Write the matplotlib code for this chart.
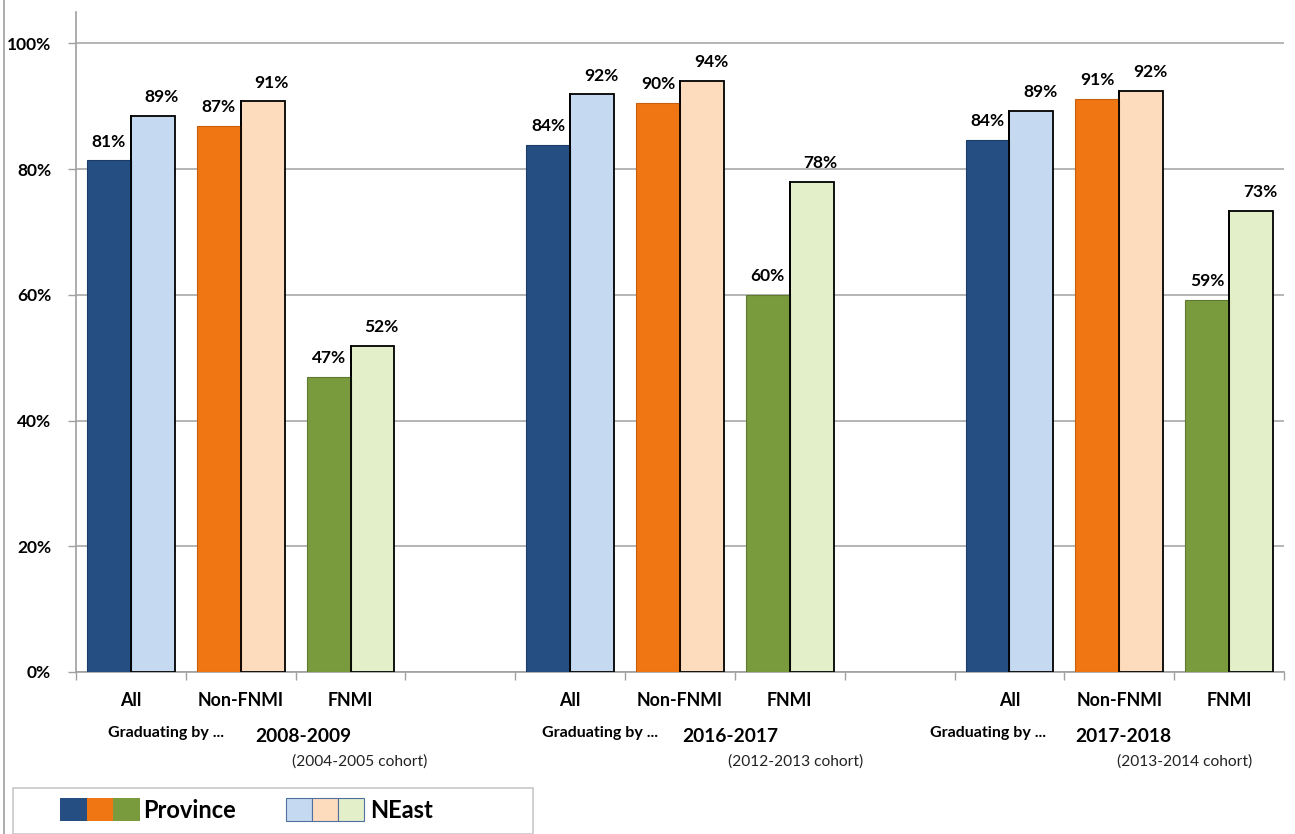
import matplotlib
matplotlib.use("Agg")
import matplotlib.pyplot as plt
from matplotlib.patches import Rectangle
from matplotlib.lines import Line2D
import numpy as np

plt.rcParams['font.family'] = ['Lato', 'DejaVu Sans']

# ---- data ----
categories = ["All", "Non-FNMI", "FNMI"]
years = ["2008-2009", "2016-2017", "2017-2018"]
cohorts = ["(2004-2005 cohort)", "(2012-2013 cohort)", "(2013-2014 cohort)"]
province = [[81.4, 86.9, 47.0], [83.9, 90.6, 60.0], [84.6, 91.2, 59.2]]
neast = [[88.5, 90.8, 51.9], [91.9, 94.1, 78.0], [89.3, 92.5, 73.4]]
province_labels = [["81%", "87%", "47%"], ["84%", "90%", "60%"], ["84%", "91%", "59%"]]
neast_labels = [["89%", "91%", "52%"], ["92%", "94%", "78%"], ["89%", "92%", "73%"]]
yticks = [0, 20, 40, 60, 80, 100]
ytick_labels = ["0%", "20%", "40%", "60%", "80%", "100%"]
series_names = ["Province", "NEast"]

dark_colors = ["#254F83", "#F07614", "#7A9A3E"]
dark_edges = ["#1B3C66", "#C85F0E", "#5E7A2E"]
light_colors = ["#C5D9F1", "#FDDCBE", "#E2EFC9"]

W, H = 1295, 834
fig = plt.figure(figsize=(W / 100, H / 100), dpi=100)

def fx(x):
    return x / W

def fy(y):
    return 1 - y / H

ax_left, ax_right, ax_top, ax_bottom = 76, 1284, 12, 672
ax = fig.add_axes([fx(ax_left), fy(ax_bottom), (ax_right - ax_left) / W, (ax_bottom - ax_top) / H])

n_slots = 11
slot_starts = [0, 4, 8]
bw = 0.4
for g in range(3):
    for c in range(3):
        center = slot_starts[g] + c + 0.5
        ax.bar(center + bw / 2, neast[g][c], width=bw, color=light_colors[c],
               edgecolor="black", linewidth=1.3, zorder=3)
        ax.bar(center - bw / 2, province[g][c], width=bw, color=dark_colors[c],
               edgecolor=dark_edges[c], linewidth=0.8, zorder=4)
        ax.plot([center, center], [0, neast[g][c]], color="black", lw=1.3, zorder=5)
        ax.annotate(province_labels[g][c], (center - bw / 2, province[g][c]),
                    xytext=(0, 13.5), textcoords="offset points", ha="center", va="center",
                    fontsize=12.5, fontweight="bold", color="black", zorder=6)
        ax.annotate(neast_labels[g][c], (center + bw / 2, neast[g][c]),
                    xytext=(6.5, 13.5), textcoords="offset points", ha="center", va="center",
                    fontsize=12.5, fontweight="bold", color="black", zorder=6)

ax.set_xlim(0, n_slots)
ax.set_ylim(0, 105)
ax.set_yticks(yticks)
ax.set_yticklabels(ytick_labels, fontsize=12.5, fontweight="bold")
ax.yaxis.grid(True, color="#A0A0A0", linewidth=1.1, zorder=0)
ax.set_axisbelow(True)
ax.tick_params(axis="y", length=6, width=1, color="#A0A0A0", pad=12)
ax.set_xticks(np.arange(0, n_slots + 1))
ax.set_xticklabels([])
ax.tick_params(axis="x", length=6, width=1, color="#A0A0A0")
for s in ["top", "right"]:
    ax.spines[s].set_visible(False)
for s in ["left", "bottom"]:
    ax.spines[s].set_color("#A0A0A0")
    ax.spines[s].set_linewidth(1.2)

# category labels
for g in range(3):
    for c in range(3):
        center = slot_starts[g] + c + 0.5
        ax.text(center, -4.5, categories[c], ha="center", va="center",
                fontsize=12.8, fontweight="bold", transform=ax.transData, clip_on=False)

grad_x = [166, 600, 988]
year_x = [303, 730, 1123]
coh_x = [360, 796, 1185]
for g in range(3):
    fig.text(fx(grad_x[g]), fy(733), "Graduating by ...", ha="center", va="center",
             fontsize=11.5, fontweight="bold")
    fig.text(fx(year_x[g]), fy(736), years[g], ha="center", va="center",
             fontsize=13.8, fontweight="bold")
    fig.text(fx(coh_x[g]), fy(762), cohorts[g], ha="center", va="center",
             fontsize=11.2, color="#222222")

# legend box
fig.add_artist(Rectangle((fx(13), fy(834)), (533 - 13) / W, (834 - 788) / H,
                         transform=fig.transFigure, facecolor="white",
                         edgecolor="#C8C8C8", linewidth=1.2))
for i in range(3):
    fig.add_artist(Rectangle((fx(60 + i * 26.7), fy(821)), 26.7 / W, 23 / H,
                             transform=fig.transFigure, facecolor=dark_colors[i],
                             edgecolor="none"))
    fig.add_artist(Rectangle((fx(286 + i * 26), fy(821)), 26 / W, 23 / H,
                             transform=fig.transFigure, facecolor=light_colors[i],
                             edgecolor="#4F6FA0", linewidth=0.8))
fig.text(fx(143), fy(811), series_names[0], ha="left", va="center", fontsize=17, fontweight="bold")
fig.text(fx(370), fy(811), series_names[1], ha="left", va="center", fontsize=17, fontweight="bold")

# outer chart border (left)
fig.add_artist(Line2D([fx(4), fx(4)], [0, 1], transform=fig.transFigure,
                      color="#A0A0A0", linewidth=1.2))

fig.savefig("out.png", dpi=100)
